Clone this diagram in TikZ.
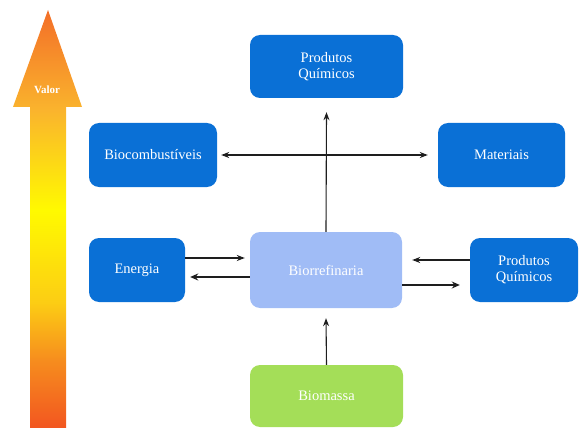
\documentclass[tikz,border=0pt]{standalone}
\usepackage{fontspec}
\setmainfont{Liberation Serif}
\usetikzlibrary{arrows.meta}
\definecolor{boxblue}{RGB}{10,112,214}
\definecolor{lightbox}{RGB}{160,188,246}
\definecolor{greenbox}{RGB}{164,222,88}
\definecolor{arrowgray}{RGB}{30,30,30}
\definecolor{vA}{RGB}{242,86,32}
\definecolor{vB}{RGB}{246,140,30}
\definecolor{vC}{RGB}{252,205,20}
\definecolor{vD}{RGB}{255,250,0}
\definecolor{vE}{RGB}{250,180,45}
\definecolor{vF}{RGB}{243,110,40}
\pgfdeclareverticalshading{valorshade}{100bp}{color(0bp)=(vA); color(25bp)=(vA); color(33bp)=(vB); color(40bp)=(vC); color(51bp)=(vD); color(63bp)=(vE); color(75bp)=(vF); color(100bp)=(vF)}
\begin{document}
\begin{tikzpicture}[x=1pt,y=-1pt,
  box/.style={rounded corners=10pt, fill=boxblue, text=white, align=center,
    font=\fontsize{14.5}{16}\selectfont, inner sep=0pt},
  conn/.style={draw=arrowgray, line width=1.1pt, -{Stealth[length=8pt,width=6pt]}},
  thick conn/.style={draw=arrowgray, line width=2.4pt, -{Stealth[length=8pt,width=7pt]}}]
\useasboundingbox (0,0) rectangle (579,428);
% value arrow
\shade[shading=valorshade] (30,428) -- (30,107) -- (13,107) -- (48,10) -- (82,107) -- (66,107) -- (66,428) -- cycle;
\node[text=white, font=\bfseries\fontsize{11}{12}\selectfont] (valor) at (47,90) {Valor};
% boxes
\node[box, minimum width=153pt, minimum height=63pt] (pq1) at (326.5,66.5) {Produtos\\Químicos};
\node[box, minimum width=127pt, minimum height=64pt] (mat) at (501.5,155) {Materiais};
\node[box, minimum width=128pt, minimum height=64pt] (bio) at (153,155) {Biocombustíveis};
\node[box, minimum width=96pt, minimum height=64pt] (ene) at (137,270) {Energia};
\node[box, fill=lightbox, minimum width=152pt, minimum height=76pt] (bior) at (326,270) {Biorrefinaria};
\node[box, minimum width=108pt, minimum height=64pt] (pq2) at (524,270) {Produtos\\Químicos};
\node[box, fill=greenbox, minimum width=153pt, minimum height=62pt] (biom) at (326.5,396) {Biomassa};
% connectors
\draw[conn, {Stealth[length=8pt,width=6pt]}-{Stealth[length=8pt,width=6pt]}] ([xshift=4pt]bio.east) -- ([xshift=-10pt]mat.west);
\draw[conn] (bior.north) -- ([yshift=-14pt]pq1.south);
\draw[conn] ([yshift=12pt]ene.east) -- ([yshift=12pt,xshift=-5pt]bior.west);
\draw[thick conn] ([yshift=-7pt]bior.west) -- ([yshift=-7pt,xshift=5pt]ene.east);
\draw[conn] ([yshift=10pt]pq2.west) -- ([yshift=10pt,xshift=10pt]bior.east);
\draw[thick conn] ([yshift=-15pt]bior.east) -- ([yshift=-15pt,xshift=-10pt]pq2.west);
\draw[conn] (biom.north) -- ([yshift=-10pt]bior.south);
\end{tikzpicture}
\end{document}
